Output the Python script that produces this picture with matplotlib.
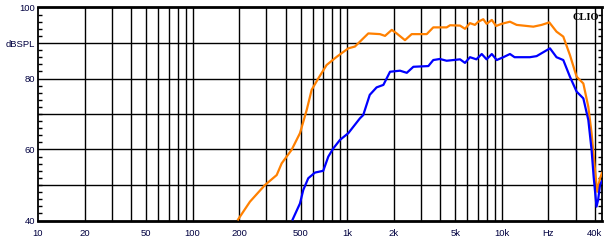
import matplotlib
matplotlib.use("Agg")
import matplotlib.pyplot as plt
from matplotlib.ticker import FixedLocator, NullFormatter

# frequency response (Hz, dBSPL)
orange_freq = [197, 235, 294, 350, 377, 437, 495, 547, 589, 650, 736, 855, 1017, 1122,
               1210, 1270, 1370, 1630, 1757, 1943, 2090, 2365, 2614, 3270, 3605, 4400,
               4630, 5370, 5780, 6230, 6700, 7050, 7590, 7980, 8620, 9190, 9980, 11300,
               12480, 16000, 18100, 20300, 22600, 25000, 27600, 30500, 33700, 36300,
               38100, 40100, 41500, 43200, 44500]
orange_db = [40.3, 45.3, 50.0, 52.8, 56.1, 59.9, 64.6, 71.1, 76.8, 80.0, 83.8, 86.1, 88.5, 89.0,
             90.4, 91.3, 92.7, 92.5, 92.0, 93.7, 92.7, 90.8, 92.5, 92.5, 94.4, 94.4,
             95.0, 94.9, 94.0, 95.6, 95.1, 96.0, 96.7, 95.4, 96.5, 94.8, 95.4, 96.0,
             95.1, 94.6, 95.1, 95.8, 93.2, 91.8, 86.6, 80.5, 78.6, 72.0,
             64.6, 54.2, 48.1, 51.9, 53.4]

blue_freq = [444, 495, 520, 560, 619, 700, 755, 813, 898, 1017, 1210, 1270, 1400, 1550,
             1715, 1893, 2196, 2430, 2680, 3350, 3605, 3980, 4400, 5370, 5780, 6230,
             6850, 7420, 7980, 8620, 9280, 10230, 11300, 12100, 15200, 16800, 20500,
             22600, 25000, 27600, 30500, 33700, 36300, 38100, 39300, 41000, 42000,
             43200, 44300]
blue_db = [40.3, 44.8, 48.6, 51.9, 53.5, 54.0, 58.0, 60.3, 62.7, 64.6, 68.8, 69.7, 75.4, 77.5,
           78.2, 81.9, 82.2, 81.6, 83.3, 83.5, 85.2, 85.5, 85.0, 85.4, 84.4, 86.0,
           85.4, 86.9, 85.4, 86.9, 85.2, 86.0, 86.9, 86.0, 86.0, 86.3, 88.5,
           86.0, 85.2, 80.5, 76.3, 74.4, 68.3, 59.9, 52.3, 43.9, 45.8,
           50.0, 51.0]

x_ticks = [10, 20, 50, 100, 200, 500, 1000, 2000, 5000, 10000, 20000, 40000]
x_labels = ["10", "20", "50", "100", "200", "500", "1k", "2k", "5k", "10k", "Hz", "40k"]
y_ticks = [40, 60, 80, 90, 100]
y_labels = ["40", "60", "80", "dBSPL", "100"]

plt.rcParams["font.family"] = ["Liberation Sans", "DejaVu Sans"]

fig = plt.figure(figsize=(6.1, 2.43), dpi=100)
ax = fig.add_axes([38 / 610, 22.5 / 243, 564 / 610, 213 / 243])

ax.set_xscale("log")
ax.set_xlim(10, 44500)
ax.set_ylim(40, 100)

# grid: every decade step on x, every 10 dB on y
grid_x = [m * 10 ** e for e in range(1, 5) for m in range(1, 10) if 10 < m * 10 ** e <= 40000]
for gx in grid_x:
    ax.axvline(gx, color="black", lw=1.0, zorder=1)
for gy in range(50, 100, 10):
    ax.axhline(gy, color="black", lw=1.0, zorder=1)

ax.plot(orange_freq, orange_db, color="#ff8000", lw=1.6, zorder=3)
ax.plot(blue_freq, blue_db, color="#0000ff", lw=1.6, zorder=4)

ax.xaxis.set_major_locator(FixedLocator(x_ticks))
ax.xaxis.set_minor_locator(FixedLocator([]))
ax.set_xticklabels(x_labels)
ax.xaxis.set_minor_formatter(NullFormatter())
ax.tick_params(axis="x", which="both", length=0, labelsize=6.8, pad=6, colors="#000040")

ax.yaxis.set_major_locator(FixedLocator(y_ticks))
ax.set_yticklabels(y_labels)
ax.yaxis.set_minor_locator(FixedLocator(list(range(42, 100, 2))))
ax.tick_params(axis="y", which="major", length=0, labelsize=6.8, pad=2, colors="#000040")
ax.tick_params(axis="y", which="minor", direction="in", length=3, width=1,
               left=True, right=True, color="black")

for side in ["top", "bottom"]:
    ax.spines[side].set_linewidth(2.0)
for side in ["left", "right"]:
    ax.spines[side].set_linewidth(1.3)

ax.text(0.995, 0.975, "CLIO", transform=ax.transAxes, ha="right", va="top",
        fontsize=7.5, fontweight="bold", family="Liberation Serif", zorder=5)

fig.savefig("out.png", dpi=100)
